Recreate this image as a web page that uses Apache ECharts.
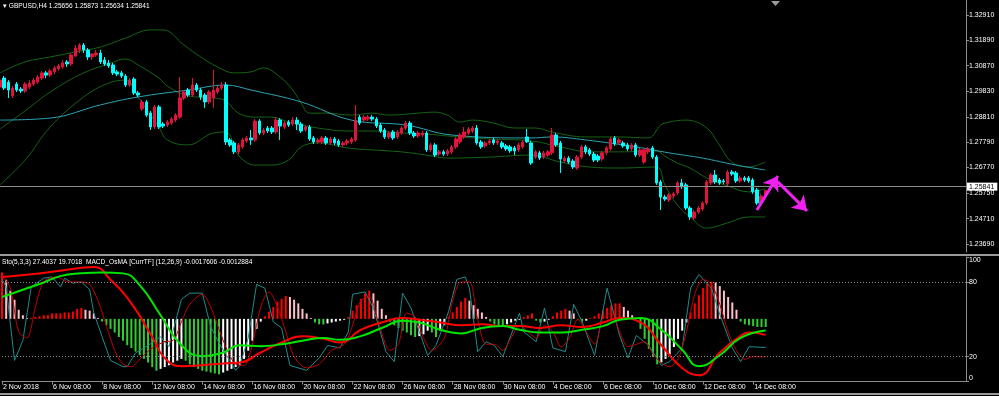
<!DOCTYPE html>
<html>
<head>
<meta charset="utf-8">
<script src="https://cdn.jsdelivr.net/npm/echarts@6/dist/echarts.min.js"></script>
<style>
  html, body { margin: 0; padding: 0; background: #000; }
  #main { width: 999px; height: 396px; }
</style>
</head>
<body>
<div id="main"></div>
<script>
// GBPUSD H4, one bar every 4 hours from 2 Nov 2018 08:00
const tickLabels = ['2 Nov 2018', '6 Nov 08:00', '8 Nov 08:00', '12 Nov 08:00', '14 Nov 08:00', '16 Nov 08:00',
  '20 Nov 08:00', '22 Nov 08:00', '26 Nov 08:00', '28 Nov 08:00', '30 Nov 08:00', '4 Dec 08:00',
  '6 Dec 08:00', '10 Dec 08:00', '12 Dec 08:00', '14 Dec 08:00'];
const priceTicks = [1.32910, 1.31890, 1.30870, 1.29830, 1.28810, 1.27790, 1.26770, 1.25750, 1.24710, 1.23690];
const stochTicks = [0, 20, 80, 100];

const opens = [1.3001,1.3037,1.3021,1.2965,1.3013,1.2993,1.2985,1.3001,1.3013,1.3021,1.3037,1.3058,1.3049,1.3062,1.3074,1.3082,1.3102,1.3094,1.3126,1.3150,
  1.3170,1.3150,1.3122,1.3130,1.3138,1.3110,1.3098,1.3090,1.3062,1.3058,1.3045,1.3009,1.3033,1.2977,1.2913,1.2941,1.2896,1.2840,1.2921,1.2852,
  1.2848,1.2856,1.2868,1.2880,1.2957,1.2989,1.2969,1.3009,1.2989,1.2969,1.2941,1.2957,1.2981,1.2997,1.3009,1.2788,1.2776,1.2740,1.2760,1.2784,
  1.2796,1.2788,1.2864,1.2816,1.2836,1.2836,1.2820,1.2868,1.2840,1.2860,1.2852,1.2868,1.2852,1.2828,1.2840,1.2796,1.2780,1.2780,1.2796,1.2776,
  1.2792,1.2784,1.2768,1.2776,1.2780,1.2788,1.2880,1.2868,1.2872,1.2880,1.2872,1.2848,1.2828,1.2800,1.2820,1.2800,1.2816,1.2836,1.2856,1.2816,
  1.2804,1.2808,1.2816,1.2748,1.2768,1.2731,1.2740,1.2731,1.2740,1.2760,1.2780,1.2800,1.2816,1.2824,1.2836,1.2780,1.2764,1.2776,1.2788,1.2776,
  1.2776,1.2764,1.2760,1.2756,1.2748,1.2760,1.2800,1.2776,1.2719,1.2736,1.2719,1.2727,1.2736,1.2808,1.2776,1.2703,1.2715,1.2703,1.2675,1.2719,
  1.2760,1.2748,1.2731,1.2723,1.2711,1.2736,1.2752,1.2796,1.2776,1.2776,1.2768,1.2752,1.2768,1.2727,1.2699,1.2740,1.2756,1.2719,1.2619,1.2558,
  1.2546,1.2562,1.2575,1.2615,1.2607,1.2514,1.2474,1.2498,1.2510,1.2534,1.2615,1.2647,1.2627,1.2623,1.2611,1.2659,1.2655,1.2623,1.2635,1.2635,
  1.2627,1.2587,1.2534,1.25656];
const closes = [1.3029,1.2997,1.2989,1.2997,1.2989,1.2985,1.3013,1.3017,1.3029,1.3041,1.3058,1.3049,1.3066,1.3078,1.3086,1.3098,1.3094,1.3130,1.3158,1.3170,
  1.3150,1.3122,1.3134,1.3138,1.3102,1.3094,1.3086,1.3058,1.3053,1.3045,1.3009,1.3029,1.2977,1.2969,1.2941,1.2888,1.2840,1.2921,1.2840,1.2844,
  1.2860,1.2872,1.2888,1.2957,1.2981,1.2969,1.3009,1.2989,1.2961,1.2941,1.2981,1.2989,1.2997,1.3009,1.2780,1.2768,1.2740,1.2768,1.2788,1.2796,
  1.2788,1.2864,1.2816,1.2828,1.2824,1.2820,1.2868,1.2844,1.2856,1.2848,1.2868,1.2852,1.2824,1.2840,1.2792,1.2780,1.2788,1.2796,1.2776,1.2792,
  1.2776,1.2768,1.2776,1.2784,1.2792,1.2868,1.2856,1.2880,1.2880,1.2872,1.2844,1.2824,1.2800,1.2816,1.2796,1.2820,1.2836,1.2856,1.2816,1.2804,
  1.2816,1.2816,1.2748,1.2768,1.2727,1.2740,1.2731,1.2744,1.2760,1.2792,1.2808,1.2820,1.2832,1.2836,1.2776,1.2760,1.2776,1.2784,1.2776,1.2784,
  1.2760,1.2752,1.2744,1.2744,1.2768,1.2780,1.2780,1.2695,1.2740,1.2715,1.2736,1.2740,1.2808,1.2768,1.2711,1.2715,1.2699,1.2679,1.2719,1.2760,
  1.2740,1.2731,1.2707,1.2707,1.2736,1.2756,1.2792,1.2772,1.2788,1.2764,1.2752,1.2768,1.2727,1.2748,1.2748,1.2752,1.2719,1.2615,1.2558,1.2550,
  1.2567,1.2571,1.2615,1.2599,1.2514,1.2478,1.2498,1.2514,1.2534,1.2619,1.2647,1.2619,1.2615,1.2619,1.2659,1.2651,1.2623,1.2635,1.2627,1.2623,
  1.2579,1.2534,1.2562,1.25841];
const lows = [1.2993,1.2989,1.2957,1.2957,1.2981,1.2977,1.2977,1.2993,1.3005,1.3013,1.3029,1.3037,1.3041,1.3053,1.3066,1.3074,1.3082,1.3086,1.3122,1.3138,
  1.3138,1.3110,1.3110,1.3122,1.3094,1.3086,1.3078,1.3049,1.3045,1.3037,1.3001,1.3001,1.2969,1.2961,1.2905,1.2880,1.2828,1.2832,1.2832,1.2836,
  1.2840,1.2848,1.2860,1.2872,1.2949,1.2961,1.2961,1.2981,1.2949,1.2917,1.2933,1.2917,1.2973,1.2989,1.2768,1.2760,1.2731,1.2731,1.2752,1.2776,
  1.2768,1.2780,1.2808,1.2808,1.2816,1.2812,1.2812,1.2788,1.2832,1.2840,1.2844,1.2828,1.2816,1.2820,1.2784,1.2772,1.2772,1.2772,1.2768,1.2768,
  1.2768,1.2760,1.2760,1.2768,1.2772,1.2780,1.2848,1.2860,1.2864,1.2864,1.2836,1.2816,1.2792,1.2792,1.2788,1.2792,1.2808,1.2828,1.2808,1.2796,
  1.2796,1.2800,1.2740,1.2740,1.2719,1.2723,1.2723,1.2723,1.2731,1.2752,1.2772,1.2792,1.2808,1.2816,1.2768,1.2752,1.2756,1.2768,1.2768,1.2768,
  1.2752,1.2744,1.2736,1.2727,1.2740,1.2752,1.2776,1.2687,1.2711,1.2707,1.2711,1.2719,1.2727,1.2760,1.2655,1.2695,1.2691,1.2671,1.2667,1.2711,
  1.2731,1.2723,1.2699,1.2699,1.2703,1.2727,1.2744,1.2764,1.2768,1.2756,1.2744,1.2744,1.2719,1.2719,1.2691,1.2731,1.2711,1.2607,1.2506,1.2542,
  1.2538,1.2554,1.2567,1.2591,1.2506,1.2466,1.2466,1.2490,1.2502,1.2526,1.2607,1.2611,1.2607,1.2611,1.2603,1.2643,1.2615,1.2615,1.2619,1.2615,
  1.2571,1.2526,1.2526,1.25634];
const highs = [1.3041,1.3045,1.3029,1.3005,1.3021,1.3001,1.3021,1.3029,1.3037,1.3049,1.3066,1.3066,1.3074,1.3086,1.3094,1.3110,1.3110,1.3138,1.3170,1.3178,
  1.3178,1.3158,1.3138,1.3150,1.3150,1.3122,1.3110,1.3098,1.3070,1.3066,1.3053,1.3037,1.3041,1.2985,1.2949,1.2949,1.2905,1.2929,1.2929,1.2860,
  1.2868,1.2880,1.2896,1.3041,1.2989,1.2997,1.3037,1.3017,1.2997,1.2977,1.2989,1.3070,1.3005,1.3021,1.3021,1.2796,1.2784,1.2776,1.2796,1.2804,
  1.2828,1.2872,1.2872,1.2836,1.2844,1.2844,1.2880,1.2876,1.2864,1.2868,1.2880,1.2880,1.2860,1.2848,1.2848,1.2804,1.2796,1.2804,1.2804,1.2800,
  1.2800,1.2792,1.2784,1.2792,1.2800,1.2929,1.2888,1.2888,1.2888,1.2888,1.2880,1.2856,1.2836,1.2824,1.2828,1.2828,1.2844,1.2864,1.2864,1.2824,
  1.2824,1.2824,1.2824,1.2776,1.2776,1.2748,1.2748,1.2752,1.2768,1.2800,1.2816,1.2840,1.2840,1.2844,1.2848,1.2788,1.2784,1.2792,1.2796,1.2792,
  1.2784,1.2772,1.2768,1.2764,1.2776,1.2788,1.2832,1.2784,1.2748,1.2744,1.2744,1.2748,1.2836,1.2816,1.2784,1.2723,1.2723,1.2711,1.2727,1.2768,
  1.2768,1.2756,1.2740,1.2731,1.2744,1.2764,1.2800,1.2804,1.2796,1.2784,1.2776,1.2776,1.2776,1.2756,1.2756,1.2760,1.2764,1.2727,1.2627,1.2567,
  1.2575,1.2579,1.2623,1.2631,1.2615,1.2522,1.2506,1.2522,1.2542,1.2627,1.2655,1.2667,1.2635,1.2631,1.2667,1.2667,1.2663,1.2643,1.2643,1.2643,
  1.2635,1.2595,1.2571,1.25873];

// Bollinger bands and the slow moving average, read as [bar, price]
const bbUpper = [[0,1.3058],[6,1.3102],[12,1.3122],[18,1.3142],[24,1.3162],[30,1.3198],[36,1.3231],[39,1.3231],[44,1.3170],[48,1.3122],
  [52,1.3082],[56,1.3058],[60,1.3062],[63,1.3078],[67,1.3041],[70,1.2989],[72,1.2937],[74,1.2896],[78,1.2896],[84,1.2888],[89,1.2896],
  [93,1.2888],[100,1.2896],[104,1.2900],[107,1.2888],[110,1.2860],[113,1.2868],[118,1.2856],[123,1.2836],[128,1.2836],[132,1.2820],
  [140,1.2800],[148,1.2800],[155,1.2796],[158,1.2848],[160,1.2860],[164,1.2868],[169,1.2836],[172,1.2768],[175,1.2699],[179,1.2679],[183,1.2699]];
const bbMiddle = [[0,1.2832],[6,1.2905],[12,1.2981],[20,1.3058],[26,1.3094],[30,1.3114],[33,1.3090],[38,1.3037],[40,1.3005],[45,1.2965],
  [51,1.2957],[54,1.2945],[57,1.2896],[61,1.2880],[65,1.2880],[69,1.2860],[72,1.2848],[76,1.2836],[83,1.2824],[89,1.2824],[96,1.2816],
  [102,1.2812],[107,1.2804],[117,1.2792],[127,1.2784],[134,1.2760],[141,1.2740],[148,1.2740],[157,1.2744],[159,1.2723],[162,1.2695],
  [165,1.2675],[169,1.2635],[174,1.2603],[179,1.2579],[183,1.2591]];
const bbLower = [[0,1.2607],[6,1.2707],[12,1.2840],[20,1.2961],[26,1.3017],[30,1.3029],[33,1.2961],[38,1.2840],[40,1.2788],[45,1.2768],
  [51,1.2816],[54,1.2820],[57,1.2727],[61,1.2687],[65,1.2687],[69,1.2707],[72,1.2760],[76,1.2776],[83,1.2756],[89,1.2748],[96,1.2740],
  [102,1.2727],[107,1.2715],[117,1.2719],[127,1.2727],[134,1.2699],[141,1.2679],[148,1.2675],[157,1.2679],[159,1.2607],[162,1.2526],
  [165,1.2478],[169,1.2433],[174,1.2454],[179,1.2478],[183,1.2478]];
const slowMa = [[0,1.2868],[12,1.2876],[24,1.2929],[33,1.2961],[45,1.2989],[54,1.3009],[60,1.2989],[72,1.2941],[84,1.2868],[97,1.2848],
  [108,1.2808],[127,1.2796],[132,1.2800],[140,1.2788],[152,1.2760],[160,1.2736],[168,1.2715],[176,1.2687],[183,1.2667]];

// Stochastic (5,3,3)
const stochMain = [[0,82],[1,76],[3,17],[5,33],[7,76],[10,83],[12,84],[14,76],[15,83],[17,79],[19,80],[21,74],[22,55],[24,36],[26,17],
  [29,12],[30,12],[32,23],[35,29],[38,36],[40,28],[41,41],[43,66],[45,71],[48,71],[50,44],[52,31],[56,9],[57,13],[59,35],[61,78],[63,75],
  [65,48],[67,43],[69,13],[73,9],[76,19],[78,29],[81,27],[83,40],[84,70],[87,72],[89,59],[92,24],[94,16],[96,71],[98,59],[100,40],[102,21],
  [104,29],[107,56],[109,82],[111,84],[112,75],[114,24],[116,32],[118,29],[120,20],[124,55],[125,40],[128,32],[130,59],[132,27],[135,24],
  [137,62],[139,48],[142,21],[145,75],[148,37],[150,19],[152,37],[155,29],[158,13],[160,16],[163,27],[165,75],[167,86],[170,75],[172,54],
  [175,27],[177,16],[179,28],[183,27.4037]];
const stochSignal = [[0,85],[2,75],[4,40],[6,35],[8,60],[10,80],[13,84],[16,80],[19,80],[21,78],[23,65],[25,45],[27,25],[29,14],[31,12],
  [33,18],[36,27],[39,32],[41,33],[43,48],[45,62],[48,70],[50,60],[52,42],[54,25],[56,14],[58,13],[60,30],[62,60],[64,72],[66,60],[68,40],
  [70,20],[73,11],[76,14],[79,25],[82,30],[84,45],[86,65],[88,68],[90,50],[93,25],[95,30],[97,55],[99,52],[101,35],[103,25],[106,35],
  [108,65],[110,80],[112,80],[114,50],[116,30],[118,30],[120,25],[122,35],[124,45],[126,40],[128,35],[130,45],[132,40],[134,28],[136,35],
  [138,50],[140,40],[142,30],[144,50],[146,55],[148,40],[150,28],[152,30],[154,32],[156,22],[158,15],[160,12],[162,18],[164,40],[166,70],
  [168,82],[170,78],[172,62],[174,40],[176,25],[178,18],[180,20],[183,19.7018]];

// MACD_OsMA (12,26,9)
const macdLine = [[0,0.0046],[7,0.0049],[14,0.0053],[22,0.0057],[26,0.0043],[31,0.0017],[36,-0.0020],[39,-0.0043],[43,-0.0052],[48,-0.0051],
  [53,-0.0049],[57,-0.0048],[62,-0.0037],[67,-0.0026],[72,-0.0019],[77,-0.0022],[81,-0.0026],[86,-0.0012],[91,-0.0004],[96,0.0001],
  [100,-0.0001],[105,-0.0004],[110,-0.0007],[115,-0.0006],[120,-0.0008],[124,-0.0008],[129,-0.0010],[134,-0.0007],[139,-0.0009],
  [144,-0.0004],[148,0.0001],[153,-0.0004],[158,-0.0029],[163,-0.0054],[167,-0.0062],[172,-0.0037],[177,-0.0019],[179,-0.0015],[183,-0.0017606]];
const signalLine = [[0,0.0024],[5,0.0032],[10,0.0040],[14,0.0047],[19,0.0050],[24,0.0051],[29,0.0050],[33,0.0037],[38,0.0004],[43,-0.0029],
  [48,-0.0041],[53,-0.0037],[57,-0.0029],[62,-0.0030],[67,-0.0028],[72,-0.0024],[77,-0.0021],[81,-0.0023],[86,-0.0019],[91,-0.0010],
  [96,-0.0002],[100,-0.0004],[105,-0.0012],[110,-0.0016],[115,-0.0010],[120,-0.0008],[124,-0.0012],[129,-0.0015],[134,-0.0015],
  [139,-0.0012],[144,-0.0008],[148,-0.0001],[153,0.0001],[158,-0.0012],[163,-0.0034],[167,-0.0052],[172,-0.0040],[177,-0.0021],[183,-0.0012884]];
const osma = [0.0051,0.0043,0.0031,0.0021,0.0010,0.0004,0.0001,0.0001,0.0002,0.0003,0.0004,0.0004,0.0006,0.0006,0.0006,0.0007,0.0007,0.0008,0.0011,0.0012,
  0.0010,0.0009,0.0006,0.0001,-0.0003,-0.0007,-0.0011,-0.0015,-0.0020,-0.0024,-0.0029,-0.0032,-0.0036,-0.0040,-0.0044,-0.0048,-0.0053,-0.0057,-0.0055,-0.0053,
  -0.0051,-0.0048,-0.0046,-0.0044,-0.0046,-0.0050,-0.0053,-0.0055,-0.0057,-0.0058,-0.0059,-0.0060,-0.0061,-0.0059,-0.0057,-0.0055,-0.0053,-0.0051,-0.0044,-0.0035,
  -0.0024,-0.0011,-0.0003,0.0003,0.0008,0.0013,0.0019,0.0022,0.0025,0.0024,0.0021,0.0017,0.0011,0.0006,0.0001,-0.0004,-0.0006,-0.0006,-0.0005,-0.0004,
  -0.0003,-0.0002,-0.0001,0.0002,0.0009,0.0015,0.0022,0.0028,0.0031,0.0028,0.0020,0.0011,0.0004,-0.0003,-0.0007,-0.0010,-0.0013,-0.0015,-0.0018,-0.0020,
  -0.0019,-0.0017,-0.0013,-0.0015,-0.0020,-0.0013,-0.0007,0.0002,0.0007,0.0013,0.0019,0.0023,0.0020,0.0015,0.0011,0.0007,0.0002,-0.0003,-0.0006,-0.0007,
  -0.0007,-0.0006,-0.0004,-0.0002,-0.0001,0.0002,0.0004,0.0006,-0.0002,-0.0004,-0.0003,-0.0001,0.0003,0.0007,0.0009,0.0011,0.0009,0.0006,-0.0001,-0.0003,
  -0.0002,0.0001,0.0003,0.0006,0.0009,0.0012,0.0015,0.0017,0.0017,0.0013,0.0009,0.0004,0.0000,-0.0011,-0.0022,-0.0033,-0.0042,-0.0050,-0.0048,-0.0044,
  -0.0039,-0.0031,-0.0022,-0.0013,-0.0004,0.0007,0.0017,0.0026,0.0034,0.0039,0.0041,0.0040,0.0036,0.0031,0.0024,0.0018,0.0010,-0.0003,-0.0006,-0.0007,
  -0.0008,-0.0009,-0.0009,-0.0009];

// hand-drawn arrows on the chart, [bar, price]
const arrowUp = [[181, 1.2506], [186, 1.2643]];
const arrowDown = [[186, 1.2619], [193, 1.2502]];

const N = 232;
const cats = Array.from({length: N}, (_, i) => String(i));
const last = opens.length - 1;
const candles = opens.map((o, i) => [o, closes[i], lows[i], highs[i]]);
const osmaBars = osma.map((v, i) => {
  const prev = i > 0 ? osma[i - 1] : v;
  let c;
  if (v >= 0) c = v >= prev ? '#ff0000' : '#ffc0cb';
  else c = v <= prev ? '#32cd32' : '#ffffff';
  return {value: v, itemStyle: {color: c}};
});

const FONT = 'Liberation Sans';
const txt = '#ffffff';
const axisGray = '#8c8c8c';
const showTick = (idx) => idx % 12 === 0 && idx / 12 < tickLabels.length;

const myChart = echarts.init(document.getElementById('main'));
const option = {
  backgroundColor: '#000000',
  animation: false,
  textStyle: {fontFamily: FONT},
  grid: [
    {left: 0, right: 33, top: 0, height: 252},
    {left: 0, right: 33, top: 257, height: 124.6}
  ],
  xAxis: [
    {gridIndex: 0, type: 'category', data: cats, boundaryGap: false,
      axisLine: {show: false}, axisTick: {show: false}, axisLabel: {show: false}, splitLine: {show: false}},
    {gridIndex: 1, type: 'category', data: cats, boundaryGap: false,
      axisLine: {show: true, lineStyle: {color: axisGray}},
      axisTick: {show: true, interval: showTick, length: 3, lineStyle: {color: axisGray}},
      axisLabel: {interval: showTick, formatter: (v, idx) => tickLabels[idx / 12] || '',
        align: 'left', color: txt, fontSize: 7, margin: 2, fontFamily: FONT, padding: [0, 0, 0, 1]},
      splitLine: {show: false}}
  ],
  yAxis: [
    {gridIndex: 0, type: 'value', position: 'right', min: 1.23369, max: 1.33514,
      axisLine: {show: true, lineStyle: {color: axisGray}},
      axisTick: {show: true, customValues: priceTicks, length: 3, lineStyle: {color: axisGray}},
      axisLabel: {customValues: priceTicks, formatter: v => v.toFixed(5), color: txt, fontSize: 7, margin: 3, fontFamily: FONT},
      splitLine: {show: false}},
    {gridIndex: 1, type: 'value', position: 'right', min: 0, max: 100,
      axisLine: {show: true, lineStyle: {color: axisGray}},
      axisTick: {show: true, customValues: stochTicks, length: 3, lineStyle: {color: axisGray}},
      axisLabel: {customValues: stochTicks, color: txt, fontSize: 7, margin: 3, fontFamily: FONT,
        verticalAlignMinLabel: 'bottom', verticalAlignMaxLabel: 'top'},
      splitLine: {show: false}},
    {gridIndex: 1, type: 'value', min: -0.0069, max: 0.0068, show: false}
  ],
  series: [
    {type: 'line', name: 'bbUpper', data: bbUpper, xAxisIndex: 0, yAxisIndex: 0, symbol: 'none', smooth: 0.4,
      lineStyle: {color: '#146414', width: 1}, z: 1},
    {type: 'line', name: 'bbMiddle', data: bbMiddle, xAxisIndex: 0, yAxisIndex: 0, symbol: 'none', smooth: 0.4,
      lineStyle: {color: '#146414', width: 1}, z: 1},
    {type: 'line', name: 'bbLower', data: bbLower, xAxisIndex: 0, yAxisIndex: 0, symbol: 'none', smooth: 0.4,
      lineStyle: {color: '#146414', width: 1}, z: 1},
    {type: 'line', name: 'ma', data: slowMa, xAxisIndex: 0, yAxisIndex: 0, symbol: 'none', smooth: 0.4,
      lineStyle: {color: '#2aa3b2', width: 1}, z: 1},
    {type: 'candlestick', name: 'GBPUSD,H4', data: candles, xAxisIndex: 0, yAxisIndex: 0, barWidth: 3,
      itemStyle: {color: '#e0143c', color0: '#00ffff', borderColor: '#e0143c', borderColor0: '#00ffff', borderWidth: 1},
      z: 3,
      markLine: {
        silent: true, symbol: 'none', animation: false,
        lineStyle: {color: '#8c8c8c', width: 1, type: 'solid'},
        label: {show: true, position: 'end', formatter: () => closes[last].toFixed(5), distance: 1,
          backgroundColor: '#ffffff', color: '#000000', fontSize: 7, fontFamily: FONT, padding: [1, 3, 0, 2]},
        data: [{yAxis: closes[last]}]
      }},
    {type: 'line', name: 'arrows', data: [], xAxisIndex: 0, yAxisIndex: 0,
      markLine: {
        silent: true, animation: false, symbol: ['none', 'arrow'], symbolSize: [14, 14],
        lineStyle: {color: '#f020f0', width: 3, type: 'solid'}, label: {show: false},
        data: [
          [{coord: arrowUp[0]}, {coord: arrowUp[1]}],
          [{coord: arrowDown[0]}, {coord: arrowDown[1]}]
        ]
      }},
    {type: 'bar', name: 'OsMA', data: osmaBars, xAxisIndex: 1, yAxisIndex: 2, barWidth: 2, z: 1},
    {type: 'line', name: 'Sto main', data: stochMain, xAxisIndex: 1, yAxisIndex: 1, symbol: 'none',
      lineStyle: {color: '#1f8c8c', width: 1}, z: 2,
      markLine: {silent: true, symbol: 'none', animation: false, label: {show: false},
        lineStyle: {color: '#8c8c8c', width: 1, type: [1, 2]},
        data: [{yAxis: 80}, {yAxis: 20}]}},
    {type: 'line', name: 'Sto signal', data: stochSignal, xAxisIndex: 1, yAxisIndex: 1, symbol: 'none', smooth: 0.3,
      lineStyle: {color: '#c00000', width: 1}, z: 2},
    {type: 'line', name: 'MACD', data: macdLine, xAxisIndex: 1, yAxisIndex: 2, symbol: 'none', smooth: 0.5,
      lineStyle: {color: '#ff0000', width: 2}, z: 3},
    {type: 'line', name: 'Signal', data: signalLine, xAxisIndex: 1, yAxisIndex: 2, symbol: 'none', smooth: 0.5,
      lineStyle: {color: '#00e600', width: 2}, z: 3}
  ],
  graphic: [
    {type: 'text', left: 3, top: 3, style: {
      text: '\u25BE GBPUSD,H4 ' + [opens[last], highs[last], lows[last], closes[last]].map(v => v.toFixed(5)).join(' '),
      fill: txt, font: '6.6px "Liberation Sans"'}},
    {type: 'text', left: 2, top: 259, style: {
      text: 'Sto(5,3,3) ' + stochMain[stochMain.length - 1][1].toFixed(4) + ' ' + stochSignal[stochSignal.length - 1][1].toFixed(4) +
        '  MACD_OsMA [CurrTF] (12,26,9) ' + macdLine[macdLine.length - 1][1].toFixed(7) + ' ' + signalLine[signalLine.length - 1][1].toFixed(7),
      fill: txt, font: '6.6px "Liberation Sans"'}},
    {type: 'rect', shape: {x: 0, y: 254, width: 999, height: 2}, style: {fill: '#9a9a9a'}, silent: true},
    {type: 'rect', shape: {x: 0, y: 393, width: 999, height: 2}, style: {fill: '#9a9a9a'}, silent: true},
    {type: 'polygon', shape: {points: [[771, 1], [780, 1], [775.5, 6]]}, style: {fill: '#9a9a9a'}, silent: true}
  ]
};
myChart.setOption(option);
</script>
</body>
</html>
